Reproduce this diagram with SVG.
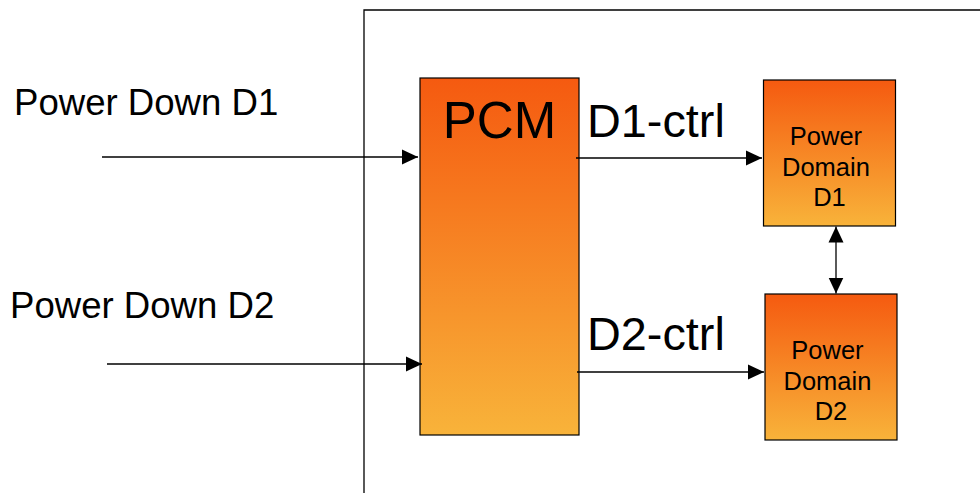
<svg xmlns="http://www.w3.org/2000/svg" width="980" height="493" viewBox="0 0 980 493">
  <style>
    .lbl { font-family: "Liberation Sans", Arial, sans-serif; fill: #000; }
    .box { fill: url(#orange); stroke: #000; stroke-width: 1.2; }
    .wire { stroke: #000; stroke-width: 1.3; fill: none; }
  </style>
  <defs>
    <linearGradient id="orange" x1="0" y1="0" x2="0" y2="1">
      <stop offset="0" stop-color="#F55A10"/>
      <stop offset="1" stop-color="#F8B33A"/>
    </linearGradient>
    <marker id="head" markerUnits="userSpaceOnUse" markerWidth="16" markerHeight="16" refX="16" refY="8" orient="auto-start-reverse" viewBox="0 0 16 16">
      <path d="M0,0.5 L16,8 L0,15.5 Z" fill="#000"/>
    </marker>
  </defs>

  <!-- enclosing chip boundary -->
  <path id="frame" d="M364,493 V10 H980" fill="none" stroke="#000" stroke-width="1.3"/>

  <g id="pcm">
    <rect class="box" x="420" y="78" width="159" height="357"/>
    <text class="lbl" x="499.5" y="138" font-size="51" text-anchor="middle">PCM</text>
  </g>

  <g id="domain-d1">
    <rect class="box" x="763.5" y="80" width="132" height="146"/>
    <text class="lbl" font-size="25.5" text-anchor="middle">
      <tspan x="829.5" y="145">Power</tspan>
      <tspan x="829.5" y="176">Domain</tspan>
      <tspan x="829.5" y="206">D1</tspan>
    </text>
  </g>

  <g id="domain-d2">
    <rect class="box" x="765" y="294" width="132" height="146"/>
    <text class="lbl" font-size="25.5" text-anchor="middle">
      <tspan x="831" y="359">Power</tspan>
      <tspan x="831" y="390">Domain</tspan>
      <tspan x="831" y="420">D2</tspan>
    </text>
  </g>

  <g id="input-labels">
    <text class="lbl" x="14" y="115" font-size="36.6">Power Down D1</text>
    <text class="lbl" x="10" y="318" font-size="36.6">Power Down D2</text>
  </g>

  <g id="ctrl-labels">
    <text class="lbl" x="587" y="137" font-size="46.8">D1-ctrl</text>
    <text class="lbl" x="587" y="350" font-size="46.8">D2-ctrl</text>
  </g>

  <g id="connectors">
    <line class="wire" x1="102" y1="157" x2="418" y2="157" marker-end="url(#head)"/>
    <line class="wire" x1="107" y1="364" x2="422" y2="364" marker-end="url(#head)"/>
    <line class="wire" x1="576" y1="158" x2="762" y2="158" marker-end="url(#head)"/>
    <line class="wire" x1="577" y1="372" x2="764" y2="372" marker-end="url(#head)"/>
    <line class="wire" x1="836" y1="226.5" x2="836" y2="293.5" marker-start="url(#head)" marker-end="url(#head)"/>
  </g>
</svg>
